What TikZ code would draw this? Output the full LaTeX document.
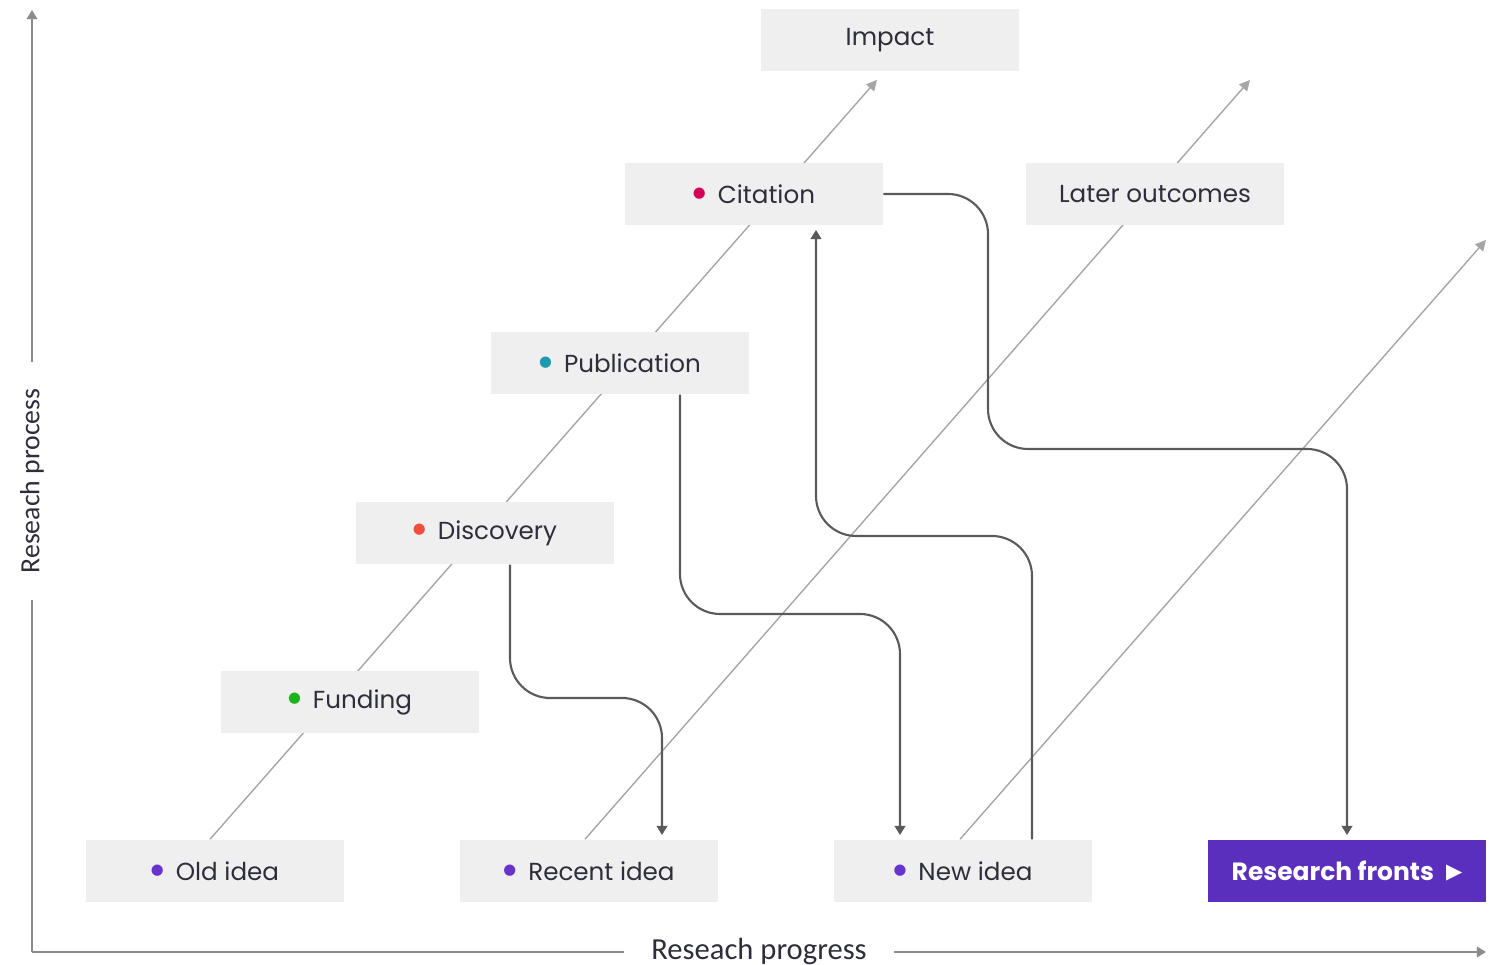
\documentclass[tikz,border=0pt]{standalone}
\usepackage{fontspec}
\setmainfont{Poppins}
\newfontfamily\axisfont{Carlito}
\newfontfamily\dejavu{DejaVu Sans}
\usetikzlibrary{arrows.meta,calc,backgrounds}

\definecolor{boxgray}{HTML}{EFEFEF}
\definecolor{txtcol}{HTML}{2E2E3A}
\definecolor{diaggray}{HTML}{A6A6A6}
\definecolor{linkgray}{HTML}{5A5A5A}
\definecolor{axisgray}{HTML}{8C8C8C}
\definecolor{frontcol}{HTML}{5A2FBE}
\definecolor{citecol}{HTML}{D6005A}
\definecolor{pubcol}{HTML}{1A9BB0}
\definecolor{disccol}{HTML}{F04E3E}
\definecolor{fundcol}{HTML}{1DB31D}
\definecolor{ideacol}{HTML}{6633CC}

\newcommand{\bul}[2]{\raisebox{1.6pt}{\textcolor{#1}{\dejavu\fontsize{4.2}{5}\selectfont ●}}\hspace{0.12cm}#2}

\tikzset{
    stage/.style={fill=boxgray, minimum width=2.57cm, minimum height=0.62cm,
        inner sep=0pt, text=txtcol, font=\fontsize{7}{8}\selectfont},
    diag/.style={draw=diaggray, line width=0.4pt, -{Triangle[width=3pt,length=3pt]}},
    link/.style={draw=linkgray, line width=0.6pt, rounded corners=0.4cm,
        -{Triangle[width=3pt,length=2.6pt]}, shorten >=1.2pt},
    axis/.style={draw=axisgray, line width=0.6pt, -{Triangle[width=3pt,length=2.6pt]}},
    axislabel/.style={fill=white, inner xsep=0.27cm, inner ysep=2pt, text=txtcol,
        font=\axisfont\fontsize{7.9}{9}\selectfont}
}

\begin{document}
\begin{tikzpicture}[x=0.01cm,y=-0.01cm]
    \useasboundingbox (0,0) rectangle (1496,965);

    % axes
    \draw[axis] (32,952) -- (1486,952) node[axislabel,midway,font=\axisfont\fontsize{8.7}{9}\selectfont] (xlab) {Reseach progress};
    \draw[axis] (32,952) -- (32,10) node[axislabel,midway,rotate=90] (ylab) {Reseach process};

    % stages
    \node[stage] (impact) at (890,40) {Impact};
    \node[stage] (cit) at (754,194) {\bul{citecol}{Citation}};
    \node[stage] (later) at (1155,194) {Later outcomes};
    \node[stage] (pub) at (620,363) {\bul{pubcol}{Publication}};
    \node[stage] (disc) at (485,533) {\bul{disccol}{Discovery}};
    \node[stage] (fund) at (350,702) {\bul{fundcol}{Funding}};
    \node[stage] (old) at (215,871) {\bul{ideacol}{Old idea}};
    \node[stage] (recent) at (589,871) {\bul{ideacol}{Recent idea}};
    \node[stage] (new) at (963,871) {\bul{ideacol}{New idea}};
    \node[stage, fill=frontcol, text=white, minimum width=2.77cm,
        font=\fontsize{7.1}{8}\selectfont\bfseries] (fronts) at (1347,871)
        {Research fronts\hspace{0.12cm}\raisebox{0.3pt}{\dejavu\fontsize{6}{6}\selectfont ▶}};

    % free ends of the diagonals
    \coordinate (end1) at (877,80);
    \coordinate (end2) at (1250,80);
    \coordinate (end3) at (1486,240);

    \begin{pgfonlayer}{background}
        \draw[diag] ($(old.north)+(-5,0)$) -- (end1);
        \draw[diag] ($(recent.north)+(-4,0)$) -- (end2);
        \draw[diag] ($(new.north)+(-3,0)$) -- (end3);
    \end{pgfonlayer}

    % links
    \draw[link] ($(disc.south)+(25,0)$) |- (586,698) -| ($(recent.north)+(73,0)$);
    \draw[link] ($(pub.south)+(60,0)$) |- (790,614) -| ($(new.north)+(-63,0)$);
    \draw[link] ($(new.north)+(69,0)$) |- (924,536) -| ($(cit.south)+(62,0)$);
    \draw[link] (cit.east) -| (988,320) |- (1170,449) -| (fronts.north);
\end{tikzpicture}
\end{document}
